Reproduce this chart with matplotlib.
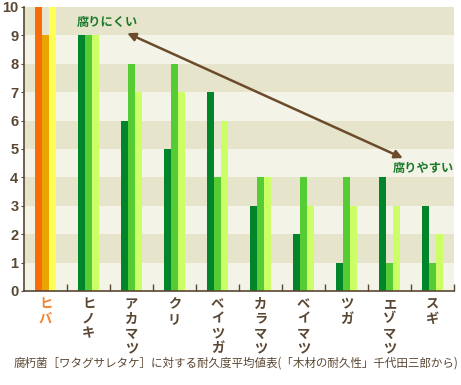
import numpy as np
import matplotlib
matplotlib.use("Agg")
import matplotlib.pyplot as plt

plt.rcParams['font.family'] = ['Noto Sans CJK JP', 'DejaVu Sans']

# Data (durability values, 3 test series per wood)
woods = ["ヒバ", "ヒノキ", "アカマツ", "クリ", "ベイツガ", "カラマツ", "ベイマツ", "ツガ", "エゾマツ", "スギ"]
series_a = [10, 9, 6, 5, 7, 3, 2, 1, 4, 3]
series_b = [9, 9, 8, 8, 4, 4, 4, 4, 1, 1]
series_c = [10, 9, 7, 7, 6, 4, 3, 3, 3, 2]
y_ticks = list(range(0, 11))

brown = "#5a4733"
greens = ["#00852b", "#55cc33", "#ccff66"]
hiba_colors = ["#f56c08", "#e9a400", "#ffff55"]
band_dark = "#e6e5cc"
band_light = "#f3f3e8"

fig = plt.figure(figsize=(4.61, 3.85), dpi=100)
ax = fig.add_axes([24 / 461, 94 / 385, 430 / 461, 284 / 385])

# alternating horizontal bands
for i in range(10):
    ax.axhspan(i, i + 1, color=band_dark if i % 2 == 1 else band_light, zorder=0, lw=0)

bw = 0.163
x = np.arange(len(woods)) + 0.5
for j, vals in enumerate([series_a, series_b, series_c]):
    cols = [hiba_colors[j] if k == 0 else greens[j] for k in range(len(woods))]
    ax.bar(x + (j - 1) * bw, vals, width=bw, color=cols, zorder=2, lw=0)

ax.set_xlim(0, len(woods))
ax.set_ylim(0, 10)

for s in ["top", "right"]:
    ax.spines[s].set_visible(False)
for s in ["left", "bottom"]:
    ax.spines[s].set_color(brown)
    ax.spines[s].set_linewidth(1.2)

ax.set_yticks(y_ticks)
ax.set_yticklabels([str(v) for v in y_ticks], fontsize=10.5, fontweight="bold",
                   color=brown, family=["Liberation Sans", "DejaVu Sans"])
ax.tick_params(axis="y", length=2, color=brown, pad=2)

ax.set_xticks(np.arange(1, len(woods) + 1))
ax.set_xticklabels([])
ax.tick_params(axis="x", direction="in", length=5, color=brown, width=1)

# vertical (stacked) category labels
for k, name in enumerate(woods):
    ax.text(x[k], -0.2, "\n".join(name), ha="center", va="top", fontsize=9.5,
            fontweight="bold", color="#f5802a" if k == 0 else brown,
            linespacing=1.08, transform=ax.transData, clip_on=False)

# double-headed arrow with labels
ax.annotate("", xy=(2.40, 9.08), xytext=(8.81, 4.68),
            arrowprops=dict(arrowstyle="<|-|>", color="#6b4b2a", lw=1.8,
                            mutation_scale=12, shrinkA=0, shrinkB=0), zorder=3)
ax.text(1.95, 9.47, "腐りにくい", ha="center", va="center", fontsize=8.8,
        fontweight="bold", color="#1b7a2a", zorder=4)
ax.text(9.29, 4.30, "腐りやすい", ha="center", va="center", fontsize=8.8,
        fontweight="bold", color="#1b7a2a", zorder=4)

fig.text(14 / 461, 1 - 363 / 385,
         "腐朽菌［ワタグサレタケ］に対する耐久度平均値表(「木材の耐久性」千代田三郎から)",
         ha="left", va="center", fontsize=8.3, color=brown)

fig.savefig("out.png", dpi=100)
